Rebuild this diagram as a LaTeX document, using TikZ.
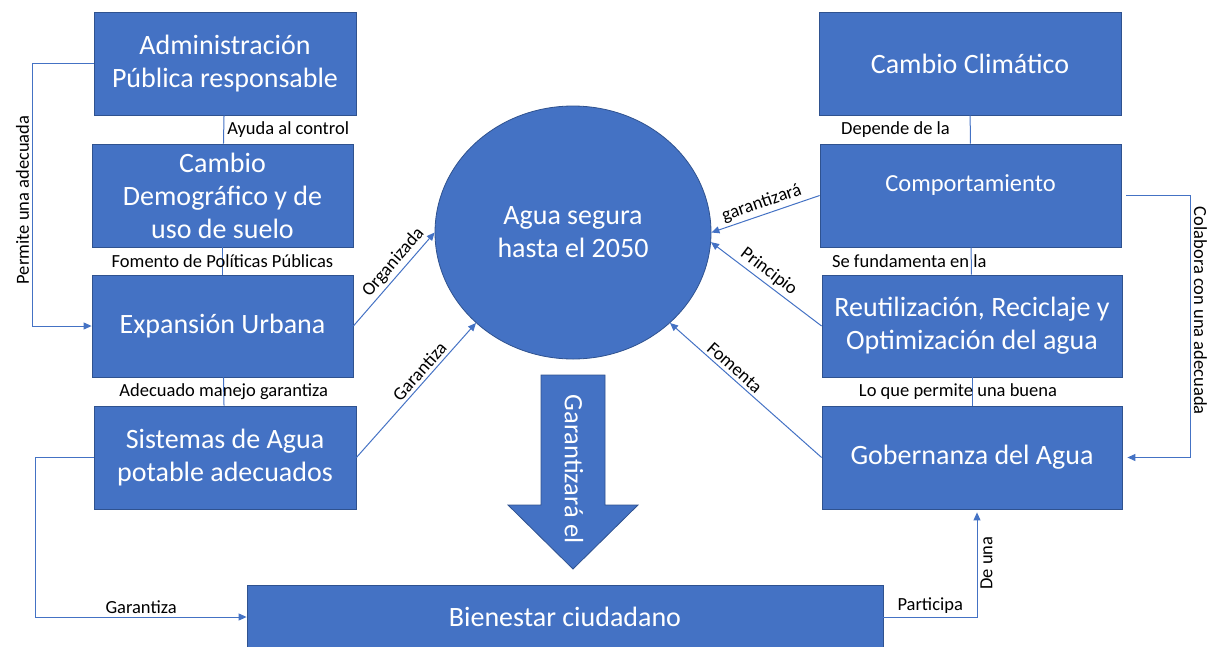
\documentclass[tikz,border=0pt]{standalone}
\usepackage{fontspec}
\setmainfont{Carlito}
\usetikzlibrary{shapes.geometric, arrows.meta}
\definecolor{ofblue}{HTML}{4472C4}
\definecolor{ofedge}{HTML}{2F528F}

\begin{document}
\begin{tikzpicture}[x=1pt, y=-1pt,
  box/.style = {draw=ofedge, line width=0.8pt, fill=ofblue, text=white, align=center, inner sep=2pt, font=\fontsize{28}{33}\selectfont},
  lbox/.style = {box, minimum width=261pt, minimum height=103pt},
  rbox/.style = {box, minimum width=301pt, minimum height=103pt},
  link/.style = {draw=ofblue, line width=1pt},
  arr/.style = {link, -{Triangle[length=8pt, width=7pt]}},
  rarr/.style = {link, {Triangle[length=8pt, width=7pt]}-},
  lab/.style = {font=\fontsize{18.5}{22}\selectfont, text=black, inner sep=3pt}]
\useasboundingbox (0,0) rectangle (1217,646);

\node[lbox, minimum width=262pt] (admin) at (225,63.5) {Administración\\Pública responsable};
\node[lbox] (demo) at (222.5,195.5) {Cambio\\Demográfico y de\\uso de suelo};
\node[lbox, minimum height=102pt] (urb) at (222.5,326) {Expansión Urbana};
\node[lbox, minimum width=262pt] (sist) at (225,457.5) {Sistemas de Agua\\potable adecuados};

\node[rbox, minimum width=302pt] (clim) at (970,63.5) {Cambio Climático};
\node[rbox, font=\fontsize{24.5}{30}\selectfont] (comp) at (970.5,195.5) {\raisebox{4.5pt}[0pt][0pt]{Comportamiento}};
\node[rbox, minimum width=300pt, minimum height=102pt] (reut) at (972,326) {Reutilización, Reciclaje y\\Optimización del agua};
\node[rbox, minimum width=300pt] (gob) at (972,457.5) {Gobernanza del Agua};

\node[box, minimum width=636pt, minimum height=64pt] (bien) at (565,617) {Bienestar ciudadano};
\node[box, ellipse, minimum width=276pt, minimum height=253pt] (agua) at (573,232.5) {Agua segura\\hasta el 2050};

\filldraw[draw=ofedge, line width=0.8pt, fill=ofblue] (541,375) -- (605,375) -- (605,505) -- (638,505) -- (573,569) -- (508,505) -- (541,505) -- cycle;
\node[rotate=-90, text=white, font=\fontsize{26.5}{32}\selectfont] (garel) at (574,469) {Garantizará el};

\draw[link] (admin) -- (demo) node[lab, right, pos=.5]{Ayuda al control};
\draw[link] (demo) -- (urb) node[lab, pos=.5]{Fomento de Políticas Públicas};
\draw[link] (urb) -- (sist) node[lab, pos=.5]{Adecuado manejo garantiza};
\draw[link] (clim) -- (comp) node[lab, left, pos=.5, xshift=-17pt]{Depende de la};
\draw[link] (comp) -- (reut) node[lab, pos=.5, xshift=-62pt]{Se fundamenta en la};
\draw[link] (reut) -- (gob) node[lab, pos=.5, xshift=-14pt]{Lo que permite una buena};

\draw[arr] (urb.east) -- (agua.west) node[lab, sloped, above, pos=.6]{Organizada};
\draw[arr] (sist.east) -- (agua.223) node[lab, sloped, above, pos=.59]{Garantiza};
\draw[rarr] (agua.east) -- (comp.west) node[lab, sloped, above, pos=.5]{garantizará};
\draw[rarr] (agua.-4) -- (reut.west) node[lab, sloped, above, pos=.46]{Principio};
\draw[rarr] (agua.-43) -- (gob.west) node[lab, sloped, above, pos=.385]{Fomenta};

\draw[arr] (admin.west) -- ++(-61,0) |- (urb.west) node[lab, pos=.26, rotate=90, above]{Permite una adecuada};
\draw[arr] (sist.west) -- ++(-58,0) |- (bien.west) node[lab, pos=.75, above]{Garantiza};
\draw[arr, shorten >=3pt] (bien.east) -| ([xshift=5pt]gob.south) node[lab, pos=.25, above]{Participa} node[lab, pos=.75, rotate=90, below]{De una};
\draw[arr, shorten <=5pt, shorten >=5pt] (comp.east) -- ++(69,0) |- (gob.east) node[lab, pos=.22, rotate=-90, above]{Colabora con una adecuada};
\end{tikzpicture}
\end{document}
